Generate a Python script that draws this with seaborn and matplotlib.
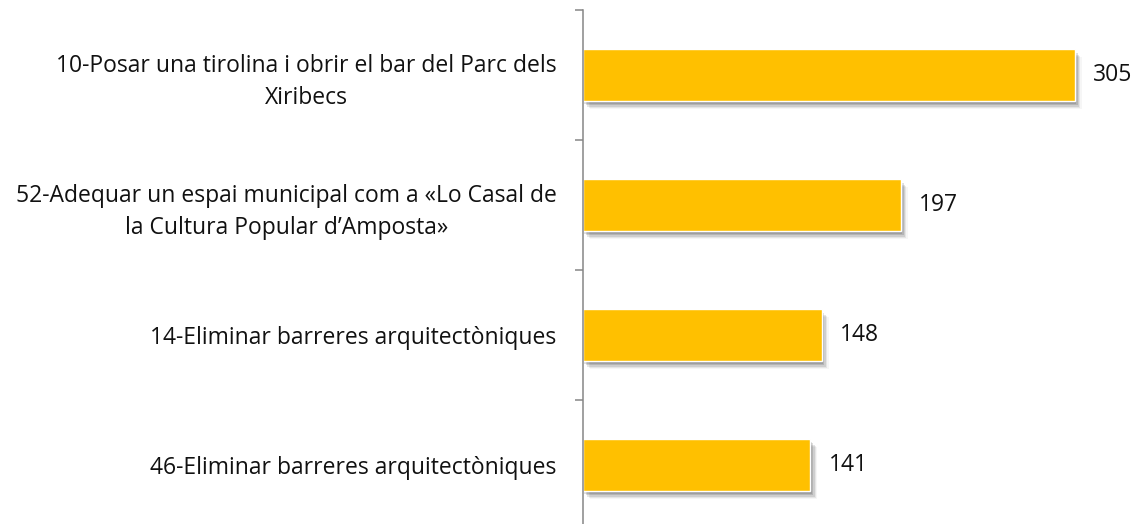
import matplotlib
matplotlib.use("Agg")
import matplotlib.pyplot as plt
import matplotlib.patheffects as pe
import seaborn as sns
import pandas as pd

categories = [
    "10-Posar una tirolina i obrir el bar del Parc dels\nXiribecs",
    "52-Adequar un espai municipal com a «Lo Casal de\nla Cultura Popular d\u2019Amposta»",
    "14-Eliminar barreres arquitectòniques",
    "46-Eliminar barreres arquitectòniques",
]
values = [305, 197, 148, 141]

df = pd.DataFrame({"cat": categories, "val": values})

sns.set_theme(style="white")
plt.rcParams["font.family"] = ["Open Sans", "DejaVu Sans"]

fig = plt.figure(figsize=(11.37, 5.24), dpi=100)
ax = fig.add_axes([583 / 1137, -6 / 524, (1137 - 583) / 1137, 520 / 524])

sns.barplot(data=df, y="cat", x="val", orient="h", color="#FFC000",
            width=0.4, saturation=1, ax=ax)

for p in ax.patches:
    p.set_path_effects([
        pe.SimplePatchShadow(offset=(1, -2), shadow_rgbFace="k", alpha=0.14),
        pe.SimplePatchShadow(offset=(2, -3), shadow_rgbFace="k", alpha=0.14),
        pe.SimplePatchShadow(offset=(3, -4), shadow_rgbFace="k", alpha=0.11),
        pe.SimplePatchShadow(offset=(4, -5), shadow_rgbFace="k", alpha=0.07),
        pe.SimplePatchShadow(offset=(5, -6), shadow_rgbFace="k", alpha=0.04),
        pe.Normal(),
    ])

ax.bar_label(ax.containers[0], labels=[str(v) for v in values], padding=13,
             fontsize=16.5, color="#111111")

ax.set_xlim(0, 343.5)
ax.set_ylim(3.5, -0.5)
ax.set_xlabel("")
ax.set_ylabel("")
ax.set_xticks([])

ax.set_yticks(range(len(categories)))
ax.set_yticklabels(categories, fontsize=16.5, color="#111111",
                   multialignment="center", linespacing=1.45)
ax.tick_params(axis="y", which="major", length=0, pad=19)
ax.set_yticks([-0.5, 0.5, 1.5, 2.5, 3.5], minor=True)
ax.tick_params(axis="y", which="minor", length=6, width=1.1, color="#868686",
               direction="out", left=True)

for s in ["top", "right", "bottom"]:
    ax.spines[s].set_visible(False)
ax.spines["left"].set_color("#868686")
ax.spines["left"].set_linewidth(1.1)

fig.savefig("out.png", dpi=100)
